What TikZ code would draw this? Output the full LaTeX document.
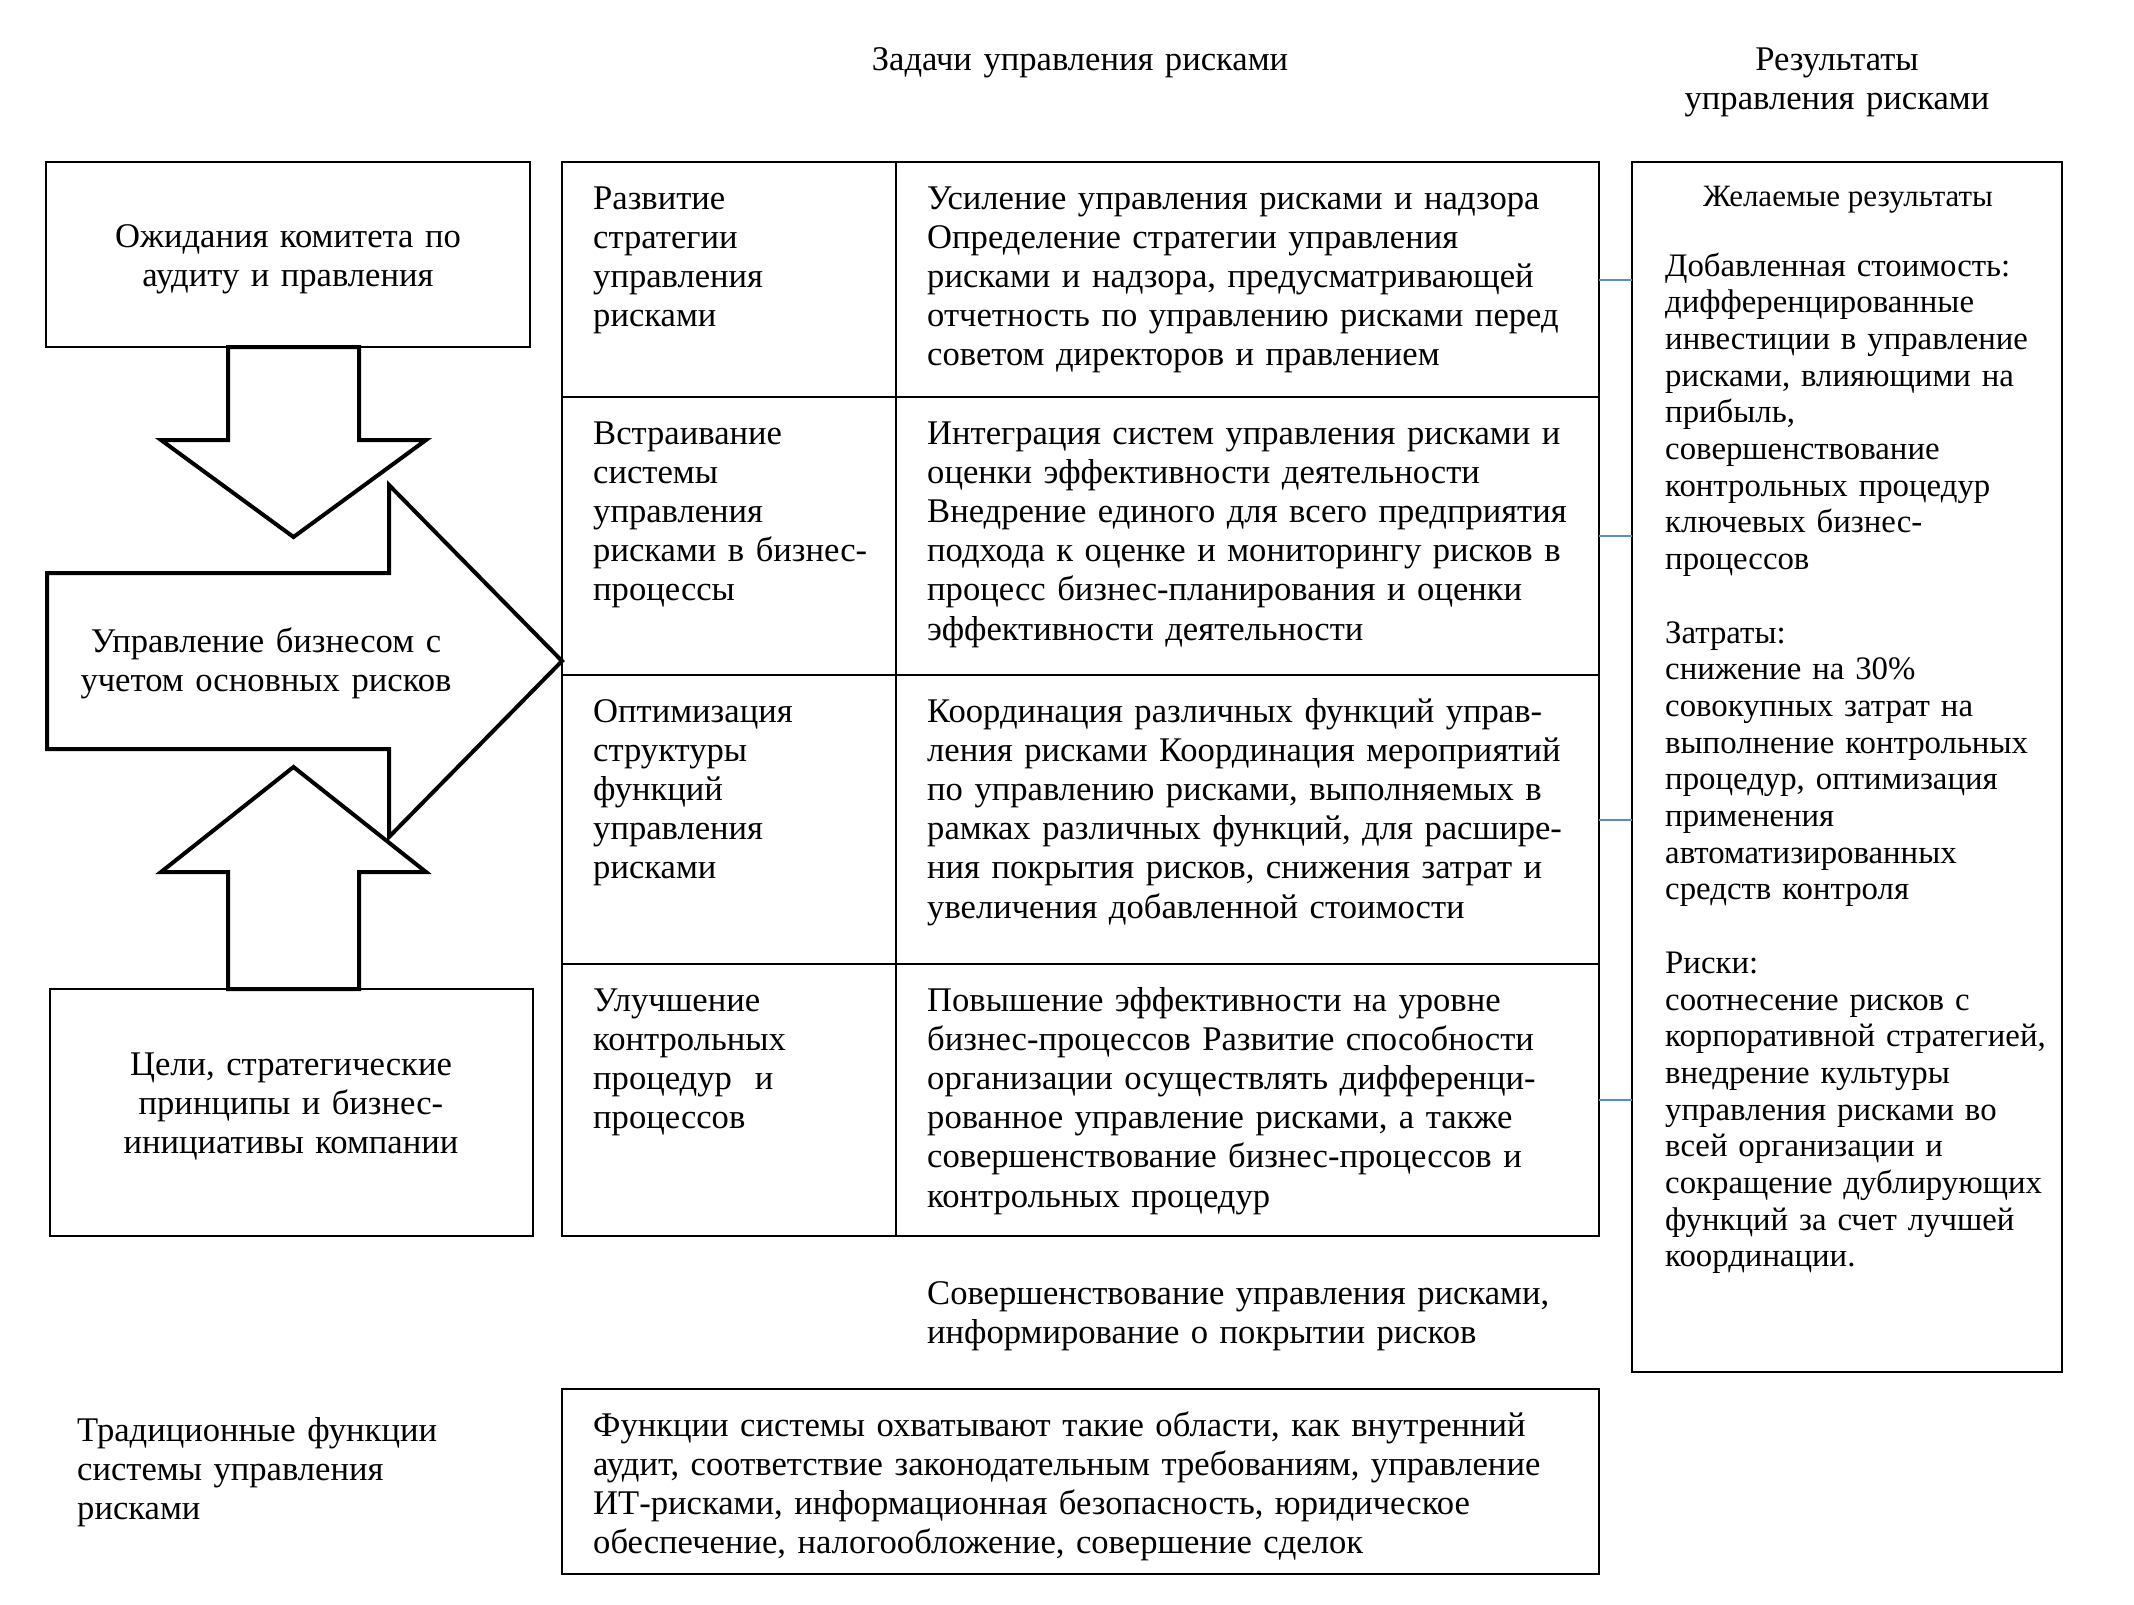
\documentclass[tikz,border=0pt]{standalone}
\usepackage{fontspec}
\setmainfont{Liberation Serif}
\usetikzlibrary{positioning}
\definecolor{linkblue}{RGB}{84,141,212}

\begin{document}
\begin{tikzpicture}[
    x=1pt, y=-1pt,
    box/.style={draw, line width=2pt, inner sep=0pt, outer sep=0pt},
    cell/.style={box, minimum height=#1},
    txt/.style={font=\fontsize{34.6}{39.2}\selectfont, align=left, inner sep=0pt, text width=#1},
    txt/.default=660pt,
    ctxt/.style={font=\fontsize{34.6}{39.2}\selectfont, align=center, inner sep=0pt, text width=460pt},
    rtxt/.style={font=\fontsize{32.8}{36.7}\selectfont, align=left, inner sep=0pt, text width=395pt},
    htxt/.style={font=\fontsize{31}{36}\selectfont, inner sep=0pt},
    fatarrow/.style={draw, line width=4pt, line join=miter, fill=white},
    link/.style={draw=linkblue, line width=2pt}
]
\useasboundingbox (0,0) rectangle (2134,1604);

% headings
\node[ctxt, anchor=base] (tasks) at (1080,70) {Задачи управления рисками};
\node[ctxt, anchor=base] (results) at (1837,70) {Результаты\\управления рисками};

% left column
\node[box, minimum width=484pt, minimum height=185pt, anchor=north west] (audit) at (46,162) {};
\node[ctxt, anchor=base] (audittxt) at (288,247) {Ожидания комитета по\\аудиту и правления};
\node[box, minimum width=483pt, minimum height=247pt, anchor=north west] (goals) at (50,989) {};
\node[ctxt, anchor=base] (goalstxt) at (291,1075) {Цели, стратегические\\принципы и бизнес-\\инициативы компании};

\draw[fatarrow] (228,347) -- (228,440) -- (161,440) -- (293.5,537) -- (426,440) -- (359,440) -- (359,347) -- cycle;
\draw[fatarrow] (228,989) -- (228,872) -- (161,872) -- (293.5,767) -- (426,872) -- (359,872) -- (359,989) -- cycle;
\draw[fatarrow] (47,573) -- (389,573) -- (389,485) -- (562,661) -- (389,837) -- (389,749) -- (47,749) -- cycle;
\node[ctxt, anchor=base] (business) at (266,652) {Управление бизнесом с\\учетом основных рисков};

% table of tasks
\node[cell=235pt, minimum width=334pt, anchor=north west] (g1) at (562,162) {};
\node[cell=235pt, minimum width=703pt, right=0pt of g1] (d1) {};
\node[cell=278pt, minimum width=334pt, below=0pt of g1] (g2) {};
\node[cell=278pt, minimum width=703pt, right=0pt of g2] (d2) {};
\node[cell=289pt, minimum width=334pt, below=0pt of g2] (g3) {};
\node[cell=289pt, minimum width=703pt, right=0pt of g3] (d3) {};
\node[cell=272pt, minimum width=334pt, below=0pt of g3] (g4) {};
\node[cell=272pt, minimum width=703pt, right=0pt of g4] (d4) {};

\node[txt=300pt, anchor=base west] (g1txt) at ([xshift=31pt, yshift=-47pt]g1.north west) {Развитие\\стратегии\\управления\\рисками};
\node[txt=300pt, anchor=base west] (g2txt) at ([xshift=31pt, yshift=-47pt]g2.north west) {Встраивание\\системы\\управления\\рисками в бизнес-\\процессы};
\node[txt=300pt, anchor=base west] (g3txt) at ([xshift=31pt, yshift=-47pt]g3.north west) {Оптимизация\\структуры\\функций\\управления\\рисками};
\node[txt=300pt, anchor=base west] (g4txt) at ([xshift=31pt, yshift=-47pt]g4.north west) {Улучшение\\контрольных\\процедур\ \ и\\процессов};

\node[txt, anchor=base west] (d1txt) at ([xshift=31pt, yshift=-47pt]d1.north west) {Усиление управления рисками и надзора\\Определение стратегии управления\\рисками и надзора, предусматривающей\\отчетность по управлению рисками перед\\советом директоров и правлением};
\node[txt, anchor=base west] (d2txt) at ([xshift=31pt, yshift=-47pt]d2.north west) {Интеграция систем управления рисками и\\оценки эффективности деятельности\\Внедрение единого для всего предприятия\\подхода к оценке и мониторингу рисков в\\процесс бизнес-планирования и оценки\\эффективности деятельности};
\node[txt, anchor=base west] (d3txt) at ([xshift=31pt, yshift=-47pt]d3.north west) {Координация различных функций управ-\\ления рисками Координация мероприятий\\по управлению рисками, выполняемых в\\рамках различных функций, для расшире-\\ния покрытия рисков, снижения затрат и\\увеличения добавленной стоимости};
\node[txt, anchor=base west] (d4txt) at ([xshift=31pt, yshift=-47pt]d4.north west) {Повышение эффективности на уровне\\бизнес-процессов Развитие способности\\организации осуществлять дифференци-\\рованное управление рисками, а также\\совершенствование бизнес-процессов и\\контрольных процедур};

\node[txt, anchor=base west] (cover) at (927,1304) {Совершенствование управления рисками,\\информирование о покрытии рисков};

% traditional functions
\node[txt=420pt, anchor=base west] (trad) at (77,1441) {Традиционные функции\\системы управления\\рисками};
\node[box, minimum width=1037pt, minimum height=185pt, anchor=north west] (func) at (562,1389) {};
\node[txt=1000pt, anchor=base west] (functxt) at (593,1436) {Функции системы охватывают такие области, как внутренний\\аудит, соответствие законодательным требованиям, управление\\ИТ-рисками, информационная безопасность, юридическое\\обеспечение, налогообложение, совершение сделок};

% results
\node[box, minimum width=430pt, minimum height=1210pt, anchor=north west] (res) at (1632,162) {};
\node[htxt, anchor=base] (wanted) at (1848,206) {Желаемые результаты};
\node[rtxt, anchor=base west] (wantedtxt) at (1665,276) {Добавленная стоимость:\\дифференцированные\\инвестиции в управление\\рисками, влияющими на\\прибыль,\\совершенствование\\контрольных процедур\\ключевых бизнес-\\процессов\\[36.7pt]Затраты:\\снижение на 30\%\\совокупных затрат на\\выполнение контрольных\\процедур, оптимизация\\применения\\автоматизированных\\средств контроля\\[36.7pt]Риски:\\соотнесение рисков с\\корпоративной стратегией,\\внедрение культуры\\управления рисками во\\всей организации и\\сокращение дублирующих\\функций за счет лучшей\\координации.};

\foreach \i in {1,...,4}
    \draw[link] (d\i.east) -- (d\i.east -| res.west);
\end{tikzpicture}
\end{document}
